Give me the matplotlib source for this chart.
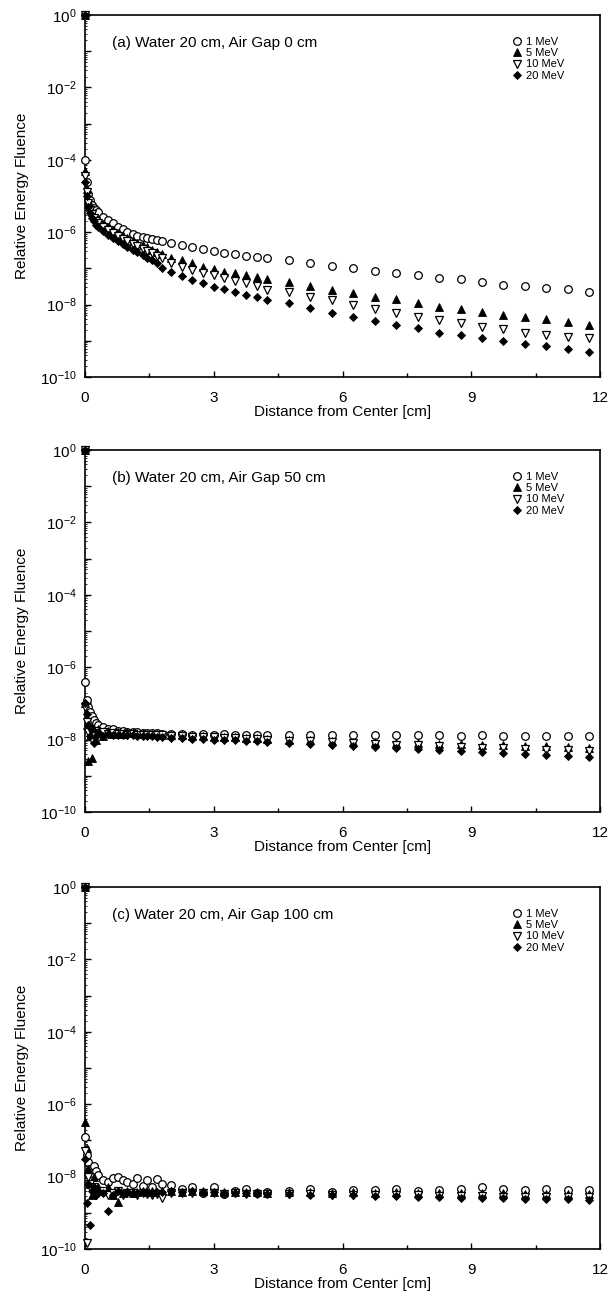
import numpy as np
import matplotlib
matplotlib.use("Agg")
import matplotlib.pyplot as plt
from matplotlib.ticker import FixedLocator, FuncFormatter, MultipleLocator, LogLocator, NullFormatter

plt.rcParams["font.family"] = ["Liberation Sans", "DejaVu Sans"]
plt.rcParams["mathtext.fontset"] = "custom"
plt.rcParams["mathtext.rm"] = "Liberation Sans"

# distance from center [cm]
dist = [0, 0.01, 0.04, 0.08, 0.12, 0.16, 0.2, 0.25,
        0.3, 0.42, 0.53, 0.65, 0.76, 0.88, 0.99, 1.11, 1.22, 1.34, 1.45, 1.57, 1.68, 1.8,
        2.0, 2.25, 2.5, 2.75, 3.0, 3.25, 3.5, 3.75, 4.0, 4.25,
        4.75, 5.25, 5.75, 6.25, 6.75, 7.25, 7.75, 8.25, 8.75, 9.25, 9.75, 10.25, 10.75, 11.25, 11.75]

energies = ["1 MeV", "5 MeV", "10 MeV", "20 MeV"]
titles = ["(a) Water 20 cm, Air Gap 0 cm",
          "(b) Water 20 cm, Air Gap 50 cm",
          "(c) Water 20 cm, Air Gap 100 cm"]

# log10 of relative energy fluence
gap0_1mev = [0, -4.0, -4.6, -4.95, -5.12, -5.25, -5.33, -5.39,
             -5.44, -5.58, -5.66, -5.75, -5.85, -5.92, -5.99, -6.05, -6.1, -6.14, -6.17, -6.2, -6.22, -6.24,
             -6.30, -6.35, -6.41, -6.46, -6.52, -6.57, -6.60, -6.66, -6.69, -6.71,
             -6.77, -6.85, -6.93, -6.99, -7.07, -7.13, -7.18, -7.27, -7.29, -7.38, -7.46, -7.49, -7.54, -7.57, -7.65]
gap0_5mev = [0, -4.3, -4.8, -5.1, -5.3, -5.45, -5.55, -5.62,
             -5.68, -5.78, -5.87, -5.95, -6.03, -6.1, -6.17, -6.24, -6.3, -6.36, -6.42, -6.48, -6.55, -6.6,
             -6.71, -6.77, -6.85, -6.96, -7.02, -7.10, -7.13, -7.18, -7.24, -7.29,
             -7.38, -7.49, -7.60, -7.68, -7.79, -7.85, -7.96, -8.07, -8.12, -8.20, -8.29, -8.34, -8.40, -8.48, -8.56]
gap0_10mev = [0, -4.45, -4.9, -5.2, -5.38, -5.5, -5.6, -5.68,
              -5.74, -5.85, -5.94, -6.02, -6.1, -6.18, -6.25, -6.32, -6.39, -6.46, -6.52, -6.58, -6.66, -6.72,
              -6.85, -6.96, -7.04, -7.13, -7.18, -7.27, -7.35, -7.40, -7.49, -7.60,
              -7.65, -7.79, -7.87, -8.01, -8.12, -8.23, -8.34, -8.43, -8.51, -8.62, -8.67, -8.78, -8.84, -8.90, -8.92]
gap0_20mev = [0, -4.6, -5.0, -5.3, -5.48, -5.6, -5.7, -5.8,
              -5.87, -5.98, -6.08, -6.17, -6.25, -6.33, -6.41, -6.48, -6.56, -6.63, -6.7, -6.78, -6.86, -7.0,
              -7.1, -7.22, -7.32, -7.40, -7.51, -7.57, -7.65, -7.73, -7.79, -7.87,
              -7.96, -8.09, -8.23, -8.34, -8.45, -8.56, -8.65, -8.78, -8.84, -8.92, -9.0, -9.08, -9.15, -9.22, -9.3]

gap50_1mev = [0, -6.4, -6.9, -7.1, -7.25, -7.35, -7.45, -7.55,
              -7.6, -7.65, -7.7, -7.72, -7.75, -7.77, -7.78, -7.8, -7.8, -7.82, -7.82, -7.83, -7.83, -7.84,
              -7.85, -7.84, -7.86, -7.85, -7.86, -7.85, -7.86, -7.87, -7.86, -7.87,
              -7.86, -7.87, -7.86, -7.87, -7.88, -7.87, -7.88, -7.88, -7.89, -7.88, -7.89, -7.9, -7.89, -7.9, -7.9]
gap50_5mev = [0, -7.0, -7.6, -8.6, -7.9, -8.5, -7.8, -8.0,
              -7.7, -7.9, -7.75, -7.85, -7.8, -7.85, -7.8, -7.82, -7.85, -7.83, -7.84, -7.85, -7.84, -7.86,
              -7.88, -7.87, -7.9, -7.9, -7.92, -7.93, -7.93, -7.95, -7.96, -7.97,
              -8.0, -8.02, -8.04, -8.06, -8.07, -8.09, -8.1, -8.12, -8.13, -8.15, -8.16, -8.18, -8.19, -8.2, -8.22]
gap50_10mev = [0, -7.1, -7.5, -7.8, -7.7, -8.0, -7.9, -7.75,
               -7.85, -7.8, -7.85, -7.82, -7.85, -7.84, -7.86, -7.85, -7.86, -7.87, -7.86, -7.87, -7.88, -7.88,
               -7.9, -7.9, -7.92, -7.93, -7.94, -7.95, -7.96, -7.97, -7.98, -8.0,
               -8.03, -8.05, -8.07, -8.1, -8.12, -8.14, -8.16, -8.18, -8.2, -8.22, -8.24, -8.26, -8.28, -8.3, -8.32]
gap50_20mev = [0, -7.0, -7.3, -7.6, -7.9, -7.7, -8.1, -7.9,
               -7.8, -7.9, -7.85, -7.88, -7.86, -7.88, -7.87, -7.88, -7.89, -7.9, -7.9, -7.91, -7.92, -7.93,
               -7.95, -7.96, -7.97, -7.98, -8.0, -8.01, -8.02, -8.04, -8.05, -8.07,
               -8.1, -8.13, -8.16, -8.18, -8.21, -8.24, -8.27, -8.3, -8.32, -8.35, -8.38, -8.4, -8.43, -8.46, -8.48]

gap100_1mev = [0, -6.9, -7.4, -7.6, -7.8, -7.9, -7.7, -7.85,
               -7.95, -8.1, -8.15, -8.05, -8.0, -8.1, -8.15, -8.2, -8.05, -8.25, -8.1, -8.3, -8.07, -8.2,
               -8.23, -8.35, -8.3, -8.45, -8.29, -8.48, -8.4, -8.35, -8.45, -8.42,
               -8.4, -8.35, -8.42, -8.38, -8.36, -8.33, -8.4, -8.36, -8.33, -8.3, -8.34, -8.36, -8.35, -8.37, -8.38]
gap100_5mev = [0, -6.5, -7.2, -7.8, -8.2, -8.5, -8.0, -8.3,
               -8.3, -8.4, -8.3, -8.5, -8.7, -8.45, -8.4, -8.45, -8.42, -8.4, -8.43, -8.4, -8.42, -8.4,
               -8.4, -8.42, -8.4, -8.41, -8.42, -8.43, -8.42, -8.43, -8.42, -8.44,
               -8.43, -8.42, -8.44, -8.43, -8.44, -8.42, -8.45, -8.44, -8.45, -8.45, -8.46, -8.47, -8.47, -8.48, -8.49]
gap100_10mev = [0, -7.3, -9.83, -8.0, -8.2, -8.4, -8.3, -8.5,
                -8.45, -8.4, -8.5, -8.45, -8.4, -8.5, -8.45, -8.45, -8.5, -8.45, -8.47, -8.5, -8.48, -8.6,
                -8.45, -8.44, -8.46, -8.45, -8.46, -8.47, -8.46, -8.47, -8.47, -8.48,
                -8.48, -8.49, -8.5, -8.5, -8.51, -8.52, -8.52, -8.53, -8.53, -8.54, -8.55, -8.55, -8.56, -8.56, -8.57]
gap100_20mev = [0, -7.5, -8.73, -8.2, -9.34, -8.4, -8.3, -8.5,
                -8.4, -8.45, -8.95, -8.5, -8.4, -8.45, -8.42, -8.45, -8.44, -8.43, -8.45, -8.44, -8.43, -8.42,
                -8.4, -8.42, -8.41, -8.42, -8.43, -8.44, -8.45, -8.45, -8.46, -8.47,
                -8.48, -8.5, -8.51, -8.52, -8.53, -8.54, -8.56, -8.57, -8.58, -8.59, -8.6, -8.61, -8.62, -8.63, -8.64]

panels = [[gap0_1mev, gap0_5mev, gap0_10mev, gap0_20mev],
          [gap50_1mev, gap50_5mev, gap50_10mev, gap50_20mev],
          [gap100_1mev, gap100_5mev, gap100_10mev, gap100_20mev]]

styles = [dict(marker="o", ms=5.5, mfc="white", mec="black", mew=0.9),
          dict(marker="^", ms=5.5, mfc="black", mec="black", mew=0.6),
          dict(marker="v", ms=5.5, mfc="white", mec="black", mew=0.9),
          dict(marker="D", ms=4.3, mfc="black", mec="black", mew=0.6)]


def sup(v, pos):
    e = int(round(np.log10(v)))
    if e % 2:
        return ""
    return r"$\mathregular{10^{%d}}$" % e


fig = plt.figure(figsize=(6.10, 13.01), dpi=100)
H = 1301.0
tops = [15, 450, 887]
for k, top in enumerate(tops):
    ax = fig.add_axes([85 / 610.0, 1 - (top + 362) / H, 515 / 610.0, 362 / H])
    for vals, st, lab in zip(panels[k], styles, energies):
        ax.plot(dist, 10.0 ** np.array(vals), ls="none", label=lab, clip_on=False, zorder=3, **st)
    ax.set_yscale("log")
    ax.set_xlim(0, 12)
    ax.set_ylim(1e-10, 1)
    ax.xaxis.set_major_locator(MultipleLocator(3))
    ax.xaxis.set_minor_locator(MultipleLocator(1.5))
    ax.yaxis.set_major_locator(FixedLocator([10.0 ** e for e in range(-10, 1)]))
    ax.yaxis.set_major_formatter(FuncFormatter(sup))
    ax.yaxis.set_minor_locator(LogLocator(base=10, subs=np.arange(2, 10), numticks=20))
    ax.yaxis.set_minor_formatter(NullFormatter())
    ax.tick_params(which="both", direction="in", top=False, right=False, labelsize=11)
    ax.tick_params(which="major", length=4, width=1)
    ax.tick_params(axis="x", which="minor", length=3, width=1)
    ax.tick_params(axis="y", which="minor", length=1.5, width=0.6)
    ax.tick_params(axis="x", pad=10)
    ax.tick_params(axis="y", pad=6)
    for s in ax.spines.values():
        s.set_linewidth(1.2)
    ax.set_xlabel("Distance from Center [cm]", fontsize=11, labelpad=0)
    ax.set_ylabel("Relative Energy Fluence", fontsize=11, labelpad=8)
    ax.text(0.052, 0.923, titles[k], transform=ax.transAxes, fontsize=11, va="center")
    ax.legend(loc="upper right", bbox_to_anchor=(0.945, 0.96), frameon=False, fontsize=8,
              labelspacing=0.1, handletextpad=0.3, handlelength=1.0, borderpad=0.2, markerscale=1.0)

fig.savefig("out.png", dpi=100)
